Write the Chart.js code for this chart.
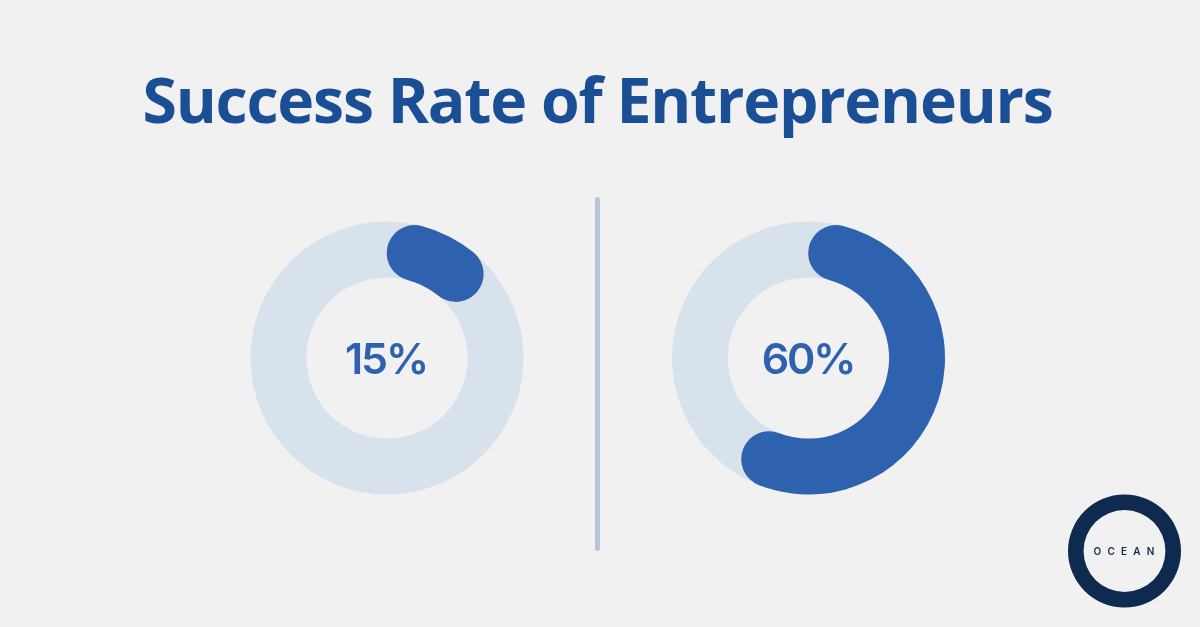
<!DOCTYPE html>
<html>
<head>
<meta charset="utf-8">
<script src="https://cdn.jsdelivr.net/npm/chart.js@4"></script>
<style>
html,body{margin:0;padding:0;background:#f1f1f1;width:1200px;height:627px;overflow:hidden}
.abs{position:absolute}
#title{left:0;width:1195px;top:56px;text-align:center;font:700 62.5px "Open Sans";letter-spacing:-1.22px;color:#1a4f95;white-space:nowrap}
#divider{left:595px;top:197px;width:5px;height:354px;border-radius:3px;background:#b4c6dc}
.pct{font:600 43px Inter;color:#2f62ae;text-align:center;width:200px;line-height:50px;letter-spacing:-2.2px}
#logoText{left:1074px;width:100px;top:543px;text-align:center;font:600 10px Inter,sans-serif;letter-spacing:6.2px;color:#0f2a4f;line-height:16px;text-indent:6px}
canvas{position:absolute}
</style>
</head>
<body>
<div id="title" class="abs"></div>
<div id="divider" class="abs"></div>
<script>
const titleText = "Success Rate of Entrepreneurs";
const categories = ["Succeeded", "Other"];
const leftValues = [15, 85];
const rightValues = [60, 40];
const leftLabel = "15%";
const rightLabel = "60%";
const trackValues = [100];
const logoValues = [100];
const logoLabel = "OCEAN";

const BLUE = "#2f62ae", TRACK = "#d8e2ec", NAVY = "#0f2a4f";
Chart.defaults.animation = false;

document.getElementById("title").textContent = titleText;

function ring(cx, cy, outer, inner, labels, values, colors, radius) {
  const base = Math.ceil(outer) * 2 + 2;
  const w = base + (cx % 1 ? 1 : 0), h = base + (cy % 1 ? 1 : 0);
  const c = document.createElement("canvas");
  c.style.left = (cx - w / 2) + "px";
  c.style.top = (cy - h / 2) + "px";
  c.style.width = w + "px";
  c.style.height = h + "px";
  c.width = w; c.height = h;
  document.body.appendChild(c);
  new Chart(c, {
    type: "doughnut",
    data: { labels, datasets: [{ data: values, backgroundColor: colors, borderWidth: 0, borderRadius: radius }] },
    options: {
      responsive: false,
      radius: outer,
      cutout: inner,
      events: [],
      layout: { padding: 0 },
      plugins: { legend: { display: false }, tooltip: { enabled: false } }
    }
  });
}
function caption(text, cx, cy) {
  const d = document.createElement("div");
  d.className = "abs pct";
  d.textContent = text;
  d.style.left = (cx - 100) + "px";
  d.style.top = (cy - 25) + "px";
  document.body.appendChild(d);
}

ring(387, 358, 136.5, 81.5, ["Track"], trackValues, [TRACK], 0);
ring(387, 358, 136.5, 81.5, categories, leftValues, [BLUE, "rgba(0,0,0,0)"], 28);
caption(leftLabel, 386, 358);

ring(808.5, 358, 136.5, 81.5, ["Track"], trackValues, [TRACK], 0);
ring(808.5, 358, 136.5, 81.5, categories, rightValues, [BLUE, "rgba(0,0,0,0)"], 28);
caption(rightLabel, 808, 358);

ring(1124.5, 551, 56.5, 42, ["Logo"], logoValues, [NAVY], 0);
const lt = document.createElement("div");
lt.id = "logoText"; lt.className = "abs"; lt.textContent = logoLabel;
document.body.appendChild(lt);
</script>
</body>
</html>
